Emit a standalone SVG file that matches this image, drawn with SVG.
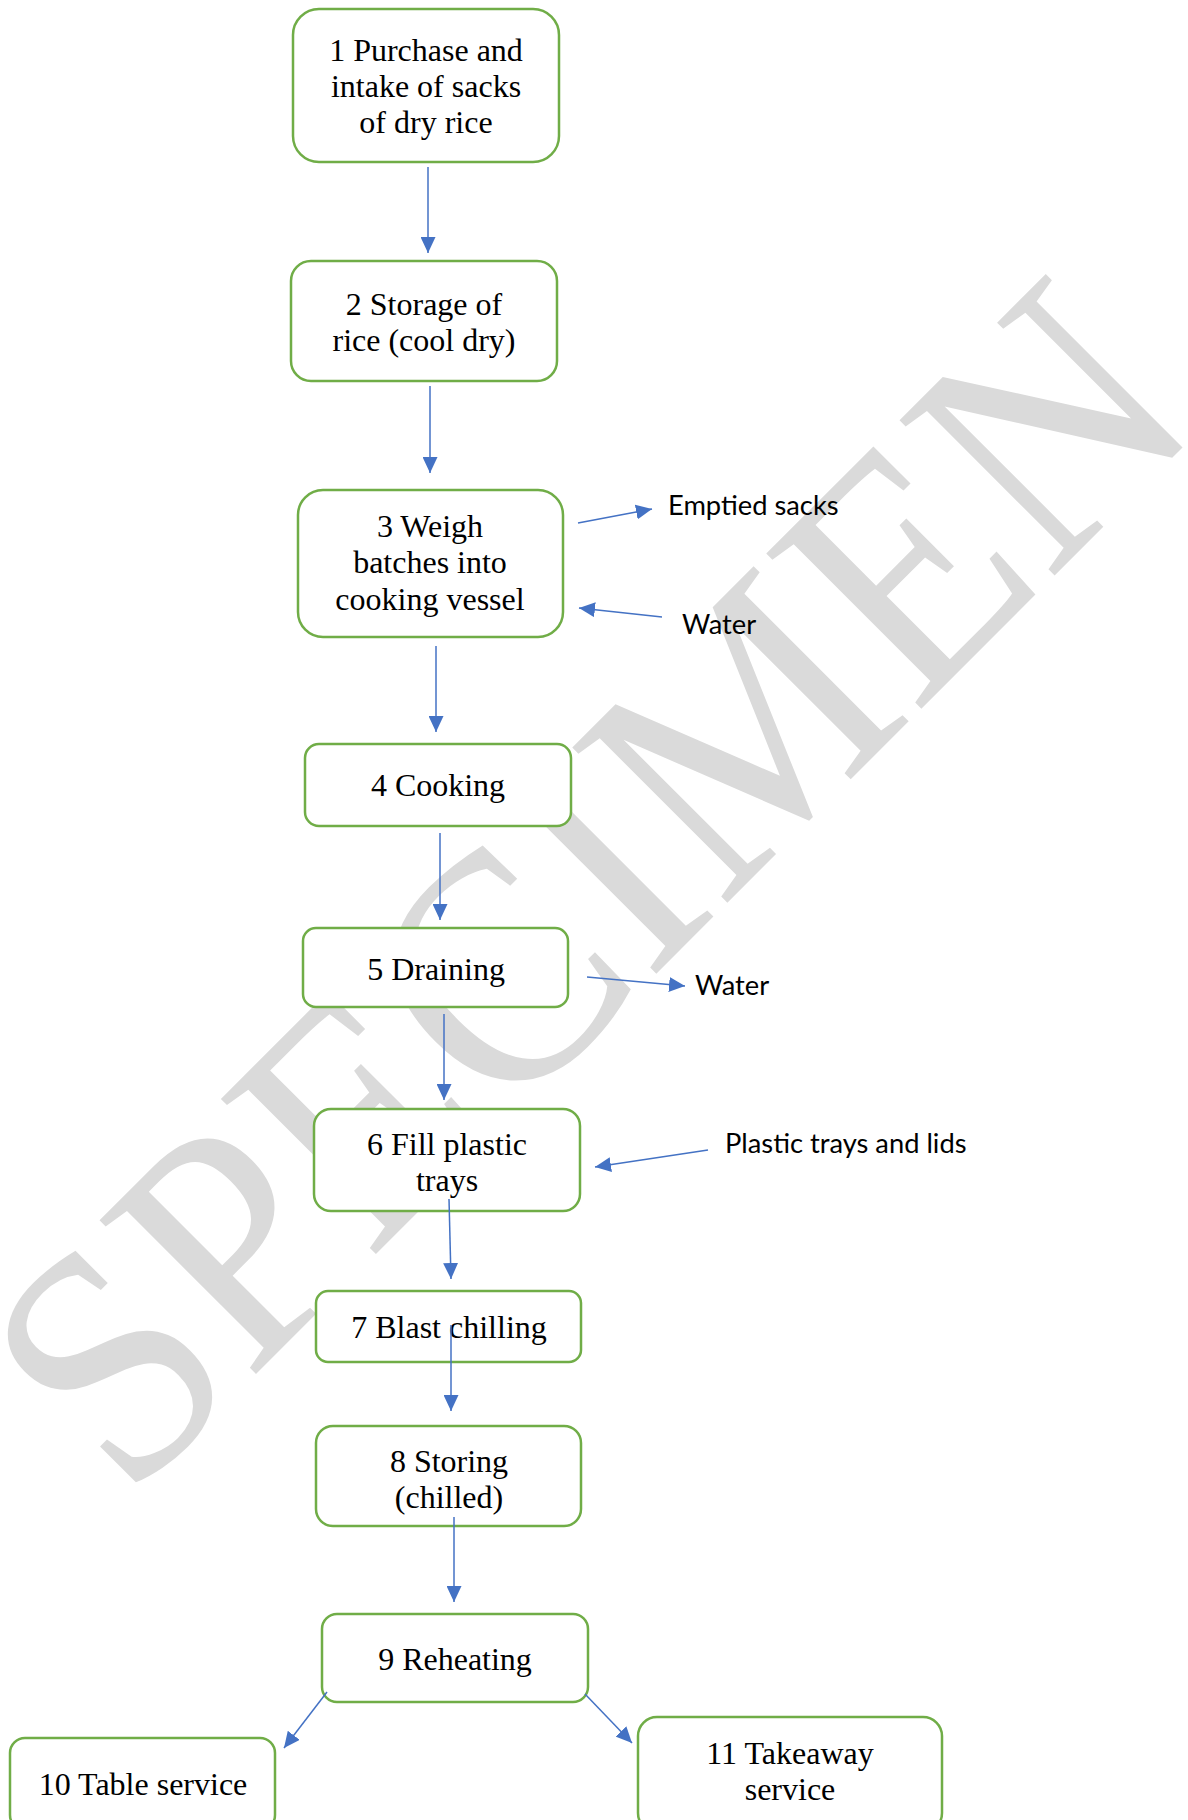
<svg xmlns="http://www.w3.org/2000/svg" width="1188" height="1820" viewBox="0 0 1188 1820">
<style>
.box{fill:#ffffff;stroke:#70AD47;stroke-width:2.5}
.t{font-family:"Liberation Serif","Times New Roman",serif;font-size:32px;fill:#000;text-anchor:middle}
.l{font-family:Lato,"Open Sans","Liberation Sans",sans-serif;font-size:27.3px;fill:#000}
.c{stroke:#4472C4;stroke-width:1.5;fill:none;marker-end:url(#ah)}
.wm{font-family:"Liberation Serif","Times New Roman",serif;font-size:335px;fill:#dadada}
</style>
<defs>
<marker id="ah" markerUnits="userSpaceOnUse" markerWidth="16" markerHeight="15" refX="16" refY="7.5" orient="auto">
<path d="M0,0 L16,7.5 L0,15 z" fill="#4472C4"/>
</marker>
</defs>
<rect width="1188" height="1820" fill="#ffffff"/>
<g id="watermark">
<text class="wm" transform="translate(127,1503) rotate(-45) scale(0.921,1)">SPECIMEN</text>
</g>
<g id="n1"><rect class="box" x="293" y="9" width="266" height="153" rx="26"/>
<text class="t" x="426" y="61">1 Purchase and</text><text class="t" x="426" y="97">intake of sacks</text><text class="t" x="426" y="133">of dry rice</text></g>
<g id="n2"><rect class="box" x="291" y="261" width="266" height="120" rx="20"/>
<text class="t" x="424" y="315">2 Storage of</text><text class="t" x="424" y="351">rice (cool dry)</text></g>
<g id="n3"><rect class="box" x="298" y="490" width="265" height="147" rx="25"/>
<text class="t" x="430" y="537">3 Weigh</text><text class="t" x="430" y="573">batches into</text><text class="t" x="430" y="610">cooking vessel</text></g>
<g id="n4"><rect class="box" x="305" y="744" width="266" height="82" rx="14"/>
<text class="t" x="438" y="796">4 Cooking</text></g>
<g id="n5"><rect class="box" x="303" y="928" width="265" height="79" rx="13"/>
<text class="t" x="436" y="980">5 Draining</text></g>
<g id="n6"><rect class="box" x="314" y="1109" width="266" height="102" rx="17"/>
<text class="t" x="447" y="1155">6 Fill plastic</text><text class="t" x="447" y="1191">trays</text></g>
<g id="n7"><rect class="box" x="316" y="1291" width="265" height="71" rx="12"/>
<text class="t" x="449" y="1338">7 Blast chilling</text></g>
<g id="n8"><rect class="box" x="316" y="1426" width="265" height="100" rx="17"/>
<text class="t" x="449" y="1472">8 Storing</text><text class="t" x="449" y="1508">(chilled)</text></g>
<g id="n9"><rect class="box" x="322" y="1614" width="266" height="88" rx="15"/>
<text class="t" x="455" y="1670">9 Reheating</text></g>
<g id="n10"><rect class="box" x="10" y="1738" width="265" height="92" rx="15"/>
<text class="t" x="143" y="1795">10 Table service</text></g>
<g id="n11"><rect class="box" x="638" y="1717" width="304" height="115" rx="19"/>
<text class="t" x="790" y="1764">11 Takeaway</text><text class="t" x="790" y="1800">service</text></g>
<g id="labels">
<text class="l" x="668" y="515">Emptied sacks</text>
<text class="l" x="682" y="634">Water</text>
<text class="l" x="695" y="995">Water</text>
<text class="l" x="725" y="1153">Plastic trays and lids</text>
</g>
<g id="connectors">
<line class="c" x1="428" y1="167" x2="428" y2="253"/>
<line class="c" x1="430" y1="386" x2="430" y2="473"/>
<line class="c" x1="436" y1="646" x2="436" y2="732"/>
<line class="c" x1="440" y1="833" x2="440" y2="920"/>
<line class="c" x1="444" y1="1014" x2="444" y2="1100"/>
<line class="c" x1="449" y1="1199" x2="451" y2="1279"/>
<line class="c" x1="451" y1="1325" x2="451" y2="1411"/>
<line class="c" x1="454" y1="1517" x2="454" y2="1602"/>
<line class="c" x1="327" y1="1692" x2="284" y2="1748"/>
<line class="c" x1="585" y1="1694" x2="632" y2="1743"/>
<line class="c" x1="578" y1="523" x2="652" y2="509"/>
<line class="c" x1="662" y1="617" x2="579" y2="608"/>
<line class="c" x1="587" y1="977" x2="685" y2="986"/>
<line class="c" x1="708" y1="1150" x2="595" y2="1167"/>
</g>
</svg>
